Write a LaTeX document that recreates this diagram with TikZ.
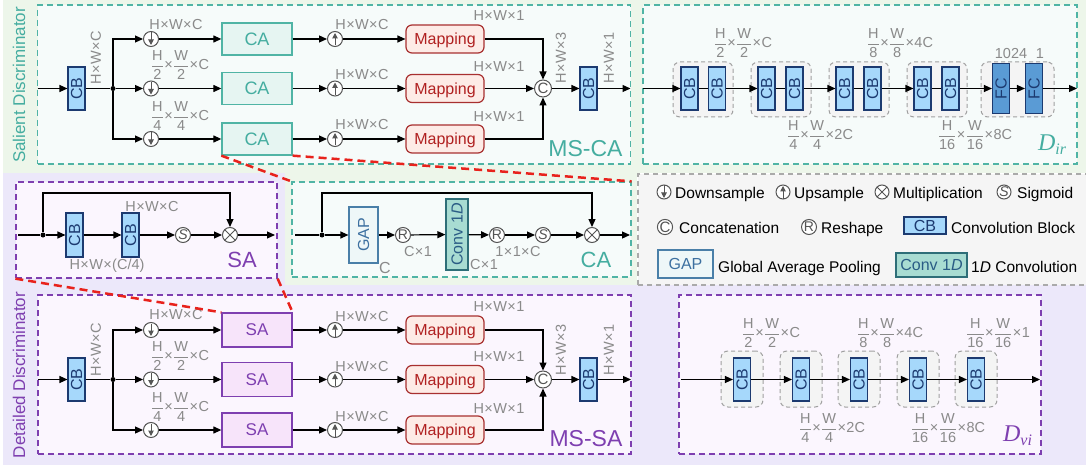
\documentclass[tikz,border=0pt]{standalone}
\usepackage{amsmath}
\usepackage{fontspec}
\setmainfont{Liberation Sans}
\newfontfamily\tnr{Liberation Serif}
\usetikzlibrary{arrows.meta}
\newcommand{\myfs}[1]{\fontsize{#1}{#1}\selectfont}
\newcommand{\fr}[2]{\ensuremath{\dfrac{\text{#1}}{\text{#2}}}}
\newcommand{\tm}{\kern0.4pt×\kern0.4pt}
\definecolor{tealc}{HTML}{50B4A5}
\definecolor{tealtext}{HTML}{45ADA0}
\definecolor{cafill}{HTML}{E6F5F2}
\definecolor{tpanelf}{HTML}{F6FBFA}
\definecolor{greenbg}{HTML}{EDF6EA}
\definecolor{purc}{HTML}{7E3FB0}
\definecolor{safill}{HTML}{F7E4FA}
\definecolor{ppanelf}{HTML}{FBF6FE}
\definecolor{lavbg}{HTML}{ECE8FA}
\definecolor{cbf}{HTML}{A6D8FB}
\definecolor{cbb}{HTML}{1C3A70}
\definecolor{fcf}{HTML}{5A9BD5}
\definecolor{mapf}{HTML}{FDEBE6}
\definecolor{mapb}{HTML}{A83030}
\definecolor{mapt}{HTML}{B02020}
\definecolor{lblc}{HTML}{8A8A8A}
\definecolor{opc}{HTML}{555555}
\definecolor{grpc}{HTML}{A0A0A0}
\definecolor{grpf}{HTML}{F4F4F4}
\definecolor{legf}{HTML}{F5F5F5}
\definecolor{legc}{HTML}{AAAAAA}
\definecolor{gapf}{HTML}{EEF7F8}
\definecolor{gapb}{HTML}{4A7FA8}
\definecolor{gapt}{HTML}{3D70A0}
\definecolor{convf}{HTML}{A8DCD2}
\definecolor{convb}{HTML}{2E6E78}
\definecolor{convt}{HTML}{2A5C85}
\definecolor{redc}{HTML}{E8221C}
\begin{document}
\begin{tikzpicture}[x=1pt,y=-1pt,
  arr/.style={line width=1.2pt,-{Triangle[length=8pt,width=7pt]}},
  ln/.style={line width=1.2pt},
  jdot/.style={circle,fill=black,minimum size=5pt,inner sep=0pt},
  cb/.style={draw=cbb,fill=cbf,line width=1.1pt,minimum width=17pt,minimum height=43pt,inner sep=0pt,text=cbb,font=\myfs{16}},
  fc/.style={cb,fill=fcf,minimum height=50pt},
  opnode/.style={circle,draw=opc,line width=1pt,fill=white,minimum size=15pt,inner sep=0pt,text=opc,font=\rmfamily\myfs{14}},
  dnop/.style={opnode,path picture={\draw[opc,line width=1pt,-{Triangle[length=5.5pt,width=5.5pt]}] ([yshift=6.5pt]path picture bounding box.center) -- ([yshift=-6pt]path picture bounding box.center);}},
  upop/.style={opnode,path picture={\draw[opc,line width=1pt,-{Triangle[length=5.5pt,width=5.5pt]}] ([yshift=-6.5pt]path picture bounding box.center) -- ([yshift=6pt]path picture bounding box.center);}},
  mulop/.style={opnode,path picture={\draw[opc,line width=1pt] (path picture bounding box.north west) -- (path picture bounding box.south east) (path picture bounding box.north east) -- (path picture bounding box.south west);}},
  catop/.style={opnode,minimum size=17pt,font=\rmfamily\myfs{15}},
  cabox/.style={draw=tealc,fill=cafill,line width=1.3pt,minimum width=70pt,minimum height=32pt,text=tealtext,font=\myfs{18}},
  sabox/.style={draw=purc,fill=safill,line width=1.3pt,minimum width=70pt,minimum height=34pt,text=purc,font=\myfs{17}},
  mapbox/.style={draw=mapb,fill=mapf,rounded corners=6pt,line width=1.2pt,minimum width=78pt,minimum height=28pt,text=mapt,font=\myfs{16},text depth=0pt},
  lbl/.style={text=lblc,font=\myfs{14.5},inner sep=0pt},
  tpanel/.style={draw=tealc,dash pattern=on 6pt off 4pt,line width=1.3pt,fill=tpanelf,inner sep=0pt},
  ppanel/.style={draw=purc,dash pattern=on 6pt off 4pt,line width=1.3pt,fill=ppanelf,inner sep=0pt},
  grp/.style={draw=grpc,dash pattern=on 4pt off 3pt,line width=1pt,rounded corners=7pt,fill=grpf,inner sep=0pt},
  rdash/.style={draw=redc,line width=2.5pt,dash pattern=on 8pt off 5pt},
  gapbox/.style={draw=gapb,fill=gapf,line width=1.2pt,minimum width=29pt,minimum height=56pt,inner sep=0pt,text=gapt,font=\myfs{16}},
  convbox/.style={draw=convb,fill=convf,line width=1.2pt,minimum width=22pt,minimum height=71pt,inner sep=0pt,text=convt,font=\myfs{16}},
  legtxt/.style={font=\myfs{15.5},anchor=base west,inner sep=0pt},
  title/.style={inner sep=0pt,font=\myfs{17}}
]
\useasboundingbox (0,0) rectangle (1086,465);
% backgrounds
\fill[greenbg] (3,0) rectangle (1086,173);
\fill[greenbg] (285,173) rectangle (637,285);
\fill[lavbg] (3,173) rectangle (285,286);
\fill[lavbg] (3,285) rectangle (1086,465);
% panels
\node[tpanel,minimum width=593pt,minimum height=159pt] (PMSCA) at (334,84.5) {};
\node[tpanel,minimum width=434pt,minimum height=159pt] (PDir) at (860,84.5) {};
\node[ppanel,minimum width=261pt,minimum height=96pt] (PSA) at (146.5,230) {};
\node[tpanel,minimum width=339pt,minimum height=95pt] (PCA) at (461.5,229.5) {};
\node[draw=legc,fill=legf,dash pattern=on 5pt off 4pt,line width=1.2pt,minimum width=454pt,minimum height=111pt,inner sep=0pt] (PLeg) at (865,229.5) {};
\node[ppanel,minimum width=593pt,minimum height=159pt] (PMSSA) at (334.5,374.5) {};
\node[ppanel,minimum width=362pt,minimum height=159pt] (PDvi) at (860,374.5) {};
% side titles
\node[title,rotate=90,text=tealtext] (tS) at (19,85) {Salient Discriminator};
\node[title,rotate=90,text=purc] (tD) at (19,375) {Detailed Discriminator};

% ================= MS-CA =================
\coordinate (inA) at (37.5,88.5);
\node[cb] (cbA) at (76.5,88.5) {\rotatebox{90}{CB}};
\node[jdot] (jA) at (113,88.5) {};
\foreach \i/\y in {1/39,2/88.5,3/139} {
  \node[dnop] (dA\i) at (151,\y) {};
  \node[cabox] (ca\i) at (257,\y) {CA};
  \node[upop] (uA\i) at (335,\y) {};
  \node[mapbox] (mA\i) at (445,\y) {Mapping};
}
\node[catop] (ccA) at (543,88.5) {C};
\node[cb] (cbA2) at (588.5,88.5) {\rotatebox{90}{CB}};
\coordinate (outA) at (630.5,88.5);
\draw[arr] (inA) -- (cbA);
\draw[ln] (cbA) -- (jA);
\draw[arr] (jA) |- (dA1);
\draw[arr] (jA) -- (dA2);
\draw[arr] (jA) |- (dA3);
\foreach \i in {1,2,3} {
  \draw[arr] (dA\i) -- (ca\i);
  \draw[arr] (ca\i) -- (uA\i);
  \draw[arr] (uA\i) -- (mA\i);
}
\draw[arr] (mA1) -| (ccA);
\draw[arr] (mA2) -- (ccA);
\draw[arr] (mA3) -| (ccA);
\draw[arr] (ccA) -- (cbA2);
\draw[arr] (cbA2) -- (outA);
\node[lbl,rotate=90] (lA0) at (96,58) {H\tm W\tm C};
\node[lbl] (lA1) at (176,25) {H\tm W\tm C};
\node[lbl] (lA2) at (180,65) {\fr{H}{2}\tm\fr{W}{2}\tm C};
\node[lbl] (lA3) at (180,116) {\fr{H}{4}\tm\fr{W}{4}\tm C};
\node[lbl] (lU1) at (362,25) {H\tm W\tm C};
\node[lbl] (lU2) at (362,75) {H\tm W\tm C};
\node[lbl] (lU3) at (362,125) {H\tm W\tm C};
\node[lbl] (lM1) at (499,16) {H\tm W\tm 1};
\node[lbl] (lM2) at (499,67) {H\tm W\tm 1};
\node[lbl] (lM3) at (499,117) {H\tm W\tm 1};
\node[lbl,rotate=90] (lA4) at (561,58) {H\tm W\tm 3};
\node[lbl,rotate=90] (lA5) at (609,58) {H\tm W\tm 1};
\node[inner sep=0pt,text=tealtext,font=\myfs{23}] (tMSCA) at (585.5,148.5) {MS-CA};

% ================= D_ir =================
\node[grp,minimum width=60pt,minimum height=55pt] (g1) at (703,89.5) {};
\node[grp,minimum width=60pt,minimum height=55pt] (g2) at (781,89.5) {};
\node[grp,minimum width=60pt,minimum height=55pt] (g3) at (859,89.5) {};
\node[grp,minimum width=60pt,minimum height=55pt] (g4) at (937,89.5) {};
\node[grp,minimum width=73pt,minimum height=55pt] (g5) at (1017.5,89.5) {};
\coordinate (inD) at (643,88.5);
\node[cb] (a1) at (689.5,88.5) {\rotatebox{90}{CB}};
\node[cb] (a2) at (717,88.5) {\rotatebox{90}{CB}};
\node[cb] (b1) at (766.5,88.5) {\rotatebox{90}{CB}};
\node[cb] (b2) at (794.5,88.5) {\rotatebox{90}{CB}};
\node[cb] (c1) at (844.5,88.5) {\rotatebox{90}{CB}};
\node[cb] (c2) at (872.5,88.5) {\rotatebox{90}{CB}};
\node[cb] (e1) at (922.5,88.5) {\rotatebox{90}{CB}};
\node[cb] (e2) at (950.5,88.5) {\rotatebox{90}{CB}};
\node[fc] (f1) at (1001,88.5) {\rotatebox{90}{FC}};
\node[fc] (f2) at (1034,88.5) {\rotatebox{90}{FC}};
\coordinate (outD) at (1077,88.5);
\draw[arr] (inD) -- (a1);
\draw[ln] (a1) -- (a2);
\draw[arr] (a2) -- (b1);
\draw[ln] (b1) -- (b2);
\draw[arr] (b2) -- (c1);
\draw[ln] (c1) -- (c2);
\draw[arr] (c2) -- (e1);
\draw[ln] (e1) -- (e2);
\draw[arr] (e2) -- (f1);
\draw[arr] (f1) -- (f2);
\draw[arr] (f2) -- (outD);
\node[lbl] (lD1) at (743,43) {\fr{H}{2}\tm\fr{W}{2}\tm C};
\node[lbl] (lD2) at (820,135) {\fr{H}{4}\tm\fr{W}{4}\tm 2C};
\node[lbl] (lD3) at (900,43) {\fr{H}{8}\tm\fr{W}{8}\tm 4C};
\node[lbl] (lD4) at (975,135) {\fr{H}{16}\tm\fr{W}{16}\tm 8C};
\node[lbl] (lD5) at (1011,54) {1024};
\node[lbl] (lD6) at (1040,54) {1};
\node[inner sep=0pt,text=tealtext] (tDir) at (1052,145) {\tnr\itshape\myfs{24}D\raisebox{-4pt}{\myfs{16}ir}};

% ================= SA panel =================
\coordinate (inS) at (18,235);
\node[jdot] (jS) at (43,235) {};
\node[cb,minimum height=44pt] (sc1) at (74.5,235) {\rotatebox{90}{CB}};
\node[cb,minimum height=44pt] (sc2) at (130.5,235) {\rotatebox{90}{CB}};
\node[opnode] (sS) at (183,235) {\itshape S};
\node[mulop] (sM) at (230,235) {};
\coordinate (outS) at (275,235);
\draw[ln] (inS) -- (jS);
\draw[arr] (jS) -- (sc1);
\draw[arr] (sc1) -- (sc2);
\draw[arr] (sc2) -- (sS);
\draw[arr] (sS) -- (sM);
\draw[arr] (sM) -- (outS);
\draw[arr] (jS) -- ++(0,-42) -| (sM);
\node[lbl] (lS1) at (152,207) {H\tm W\tm C};
\node[lbl] (lS2) at (107,266) {H\tm W\tm (C/4)};
\node[inner sep=0pt,text=purc,font=\myfs{22}] (tSA) at (242,260) {SA};

% ================= CA panel =================
\coordinate (inC) at (295,235);
\node[jdot] (jC) at (322,235) {};
\node[gapbox] (gap) at (363.5,235) {\rotatebox{90}{GAP}};
\node[opnode] (r1) at (403,235) {R};
\node[convbox] (conv) at (457,234.5) {\rotatebox{90}{Conv 1\textit{D}}};
\node[opnode] (r2) at (497,235) {R};
\node[opnode] (cS) at (543,235) {\itshape S};
\node[mulop] (cM) at (592,235) {};
\coordinate (outC) at (630,235);
\draw[ln] (inC) -- (jC);
\draw[arr] (jC) -- (gap);
\draw[arr] (gap) -- (r1);
\draw[arr] (r1) -- (conv);
\draw[arr] (conv) -- (r2);
\draw[arr] (r2) -- (cS);
\draw[arr] (cS) -- (cM);
\draw[arr] (cM) -- (outC);
\draw[arr] (jC) -- ++(0,-42) -| (cM);
\node[lbl,font=\myfs{16}] (lC1) at (385,268) {C};
\node[lbl] (lC2) at (418,252) {C\tm 1};
\node[lbl] (lC3) at (484,265) {C\tm 1};
\node[lbl] (lC4) at (518,252) {1\tm 1\tm C};
\node[inner sep=0pt,text=tealtext,font=\myfs{22}] (tCA) at (596,260) {CA};

% ================= Legend =================
\node[dnop,minimum size=14pt] (k1) at (664,192) {};
\node[legtxt] (k1t) at (675,198) {Downsample};
\node[upop,minimum size=14pt] (k2) at (783,192) {};
\node[legtxt] (k2t) at (794,198) {Upsample};
\node[mulop,minimum size=14pt] (k3) at (882,192) {};
\node[legtxt] (k3t) at (893,198) {Multiplication};
\node[opnode,minimum size=14pt] (k4) at (1004,192) {\itshape S};
\node[legtxt] (k4t) at (1017,198) {Sigmoid};
\node[catop,minimum size=15pt] (k5) at (665,227) {C};
\node[legtxt] (k5t) at (679,233) {Concatenation};
\node[opnode,minimum size=15pt] (k6) at (809,227) {R};
\node[legtxt] (k6t) at (821,233) {Reshape};
\node[cb,minimum width=42pt,minimum height=17pt] (k7) at (925,225.5) {CB};
\node[legtxt] (k7t) at (951,233) {Convolution Block};
\node[gapbox,minimum width=55pt,minimum height=28pt] (k8) at (685.5,264) {GAP};
\node[legtxt] (k8t) at (718,272) {Global Average Pooling};
\node[convbox,minimum width=71pt,minimum height=24pt] (k9) at (931.5,265) {Conv 1\textit{D}};
\node[legtxt] (k9t) at (971,272) {1\textit{D} Convolution};

% ================= MS-SA =================
\coordinate (inB) at (38,379.5);
\node[cb] (cbB) at (76.5,379.5) {\rotatebox{90}{CB}};
\node[jdot] (jB) at (113,379.5) {};
\foreach \i/\y in {1/330,2/379.5,3/430} {
  \node[dnop] (dB\i) at (151,\y) {};
  \node[sabox] (sa\i) at (257,\y) {SA};
  \node[upop] (uB\i) at (335,\y) {};
  \node[mapbox] (mB\i) at (445,\y) {Mapping};
}
\node[catop] (ccB) at (543,379.5) {C};
\node[cb] (cbB2) at (588.5,379.5) {\rotatebox{90}{CB}};
\coordinate (outB) at (631,379.5);
\draw[arr] (inB) -- (cbB);
\draw[ln] (cbB) -- (jB);
\draw[arr] (jB) |- (dB1);
\draw[arr] (jB) -- (dB2);
\draw[arr] (jB) |- (dB3);
\foreach \i in {1,2,3} {
  \draw[arr] (dB\i) -- (sa\i);
  \draw[arr] (sa\i) -- (uB\i);
  \draw[arr] (uB\i) -- (mB\i);
}
\draw[arr] (mB1) -| (ccB);
\draw[arr] (mB2) -- (ccB);
\draw[arr] (mB3) -| (ccB);
\draw[arr] (ccB) -- (cbB2);
\draw[arr] (cbB2) -- (outB);
\node[lbl,rotate=90] (lB0) at (96,350) {H\tm W\tm C};
\node[lbl] (lB1) at (176,315) {H\tm W\tm C};
\node[lbl] (lB2) at (180,356) {\fr{H}{2}\tm\fr{W}{2}\tm C};
\node[lbl] (lB3) at (180,407) {\fr{H}{4}\tm\fr{W}{4}\tm C};
\node[lbl] (lV1) at (362,317) {H\tm W\tm C};
\node[lbl] (lV2) at (362,367) {H\tm W\tm C};
\node[lbl] (lV3) at (362,417) {H\tm W\tm C};
\node[lbl] (lN1) at (499,307) {H\tm W\tm 1};
\node[lbl] (lN2) at (499,357) {H\tm W\tm 1};
\node[lbl] (lN3) at (499,409) {H\tm W\tm 1};
\node[lbl,rotate=90] (lB4) at (561,350) {H\tm W\tm 3};
\node[lbl,rotate=90] (lB5) at (609,350) {H\tm W\tm 1};
\node[inner sep=0pt,text=purc,font=\myfs{23}] (tMSSA) at (586,439) {MS-SA};

% ================= D_vi =================
\foreach \i/\x in {1/742,2/801,3/859,4/918,5/976} {
  \node[grp,minimum width=42pt,minimum height=56pt] (h\i) at (\x,379) {};
  \node[cb] (v\i) at (\x,379.5) {\rotatebox{90}{CB}};
}
\coordinate (inV) at (681,379.5);
\coordinate (outV) at (1040,379.5);
\draw[arr] (inV) -- (v1);
\draw[arr] (v1) -- (v2);
\draw[arr] (v2) -- (v3);
\draw[arr] (v3) -- (v4);
\draw[arr] (v4) -- (v5);
\draw[arr] (v5) -- (outV);
\node[lbl] (lW1) at (771,333) {\fr{H}{2}\tm\fr{W}{2}\tm C};
\node[lbl] (lW2) at (832,428) {\fr{H}{4}\tm\fr{W}{4}\tm 2C};
\node[lbl] (lW3) at (890,333) {\fr{H}{8}\tm\fr{W}{8}\tm 4C};
\node[lbl] (lW4) at (948,428) {\fr{H}{16}\tm\fr{W}{16}\tm 8C};
\node[lbl] (lW5) at (998,333) {\fr{H}{16}\tm\fr{W}{16}\tm 1};
\node[inner sep=0pt,text=purc] (tDvi) at (1017.5,436) {\tnr\itshape\myfs{24}D\raisebox{-4pt}{\myfs{16}vi}};

% ================= red zoom lines =================
\draw[rdash] (ca3.south west) -- (PCA.north west);
\draw[rdash] (ca3.south east) -- (PCA.north east);
\draw[rdash] (PSA.south west) -- (sa1.north west);
\draw[rdash] (PSA.south east) -- (sa1.north east);
\end{tikzpicture}
\end{document}
